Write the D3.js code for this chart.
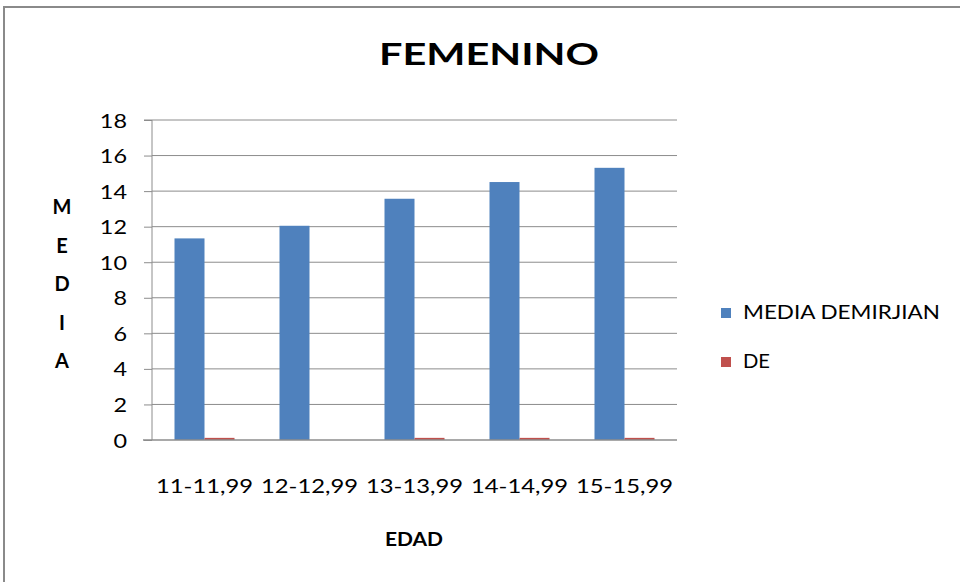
<!DOCTYPE html>
<html>
<head>
<meta charset="utf-8">
<script src="https://cdn.jsdelivr.net/npm/d3@7"></script>
<style>
  html, body { margin: 0; padding: 0; background: #fff; }
  svg { display: block; }
  text { font-family: Lato, "Open Sans", sans-serif; fill: #000; }
</style>
</head>
<body>
<script>
// Age groups on the x axis
const categories = ["11-11,99", "12-12,99", "13-13,99", "14-14,99", "15-15,99"];
// Series
const seriesNames = ["MEDIA DEMIRJIAN", "DE"];
const mediaDemirjian = [11.34, 12.05, 13.57, 14.51, 15.31];
const de = [0.12, 0, 0.12, 0.12, 0.12];
// Value axis ticks
const yTicks = [0, 2, 4, 6, 8, 10, 12, 14, 16, 18];
const colors = ["#4F81BD", "#C0504D"];

const W = 960, H = 582;
const svg = d3.select("body").append("svg").attr("width", W).attr("height", H);

// Outer chart frame
svg.append("path")
  .attr("d", "M4,585 L4,7 L965,7")
  .attr("fill", "none").attr("stroke", "#8a8a8a").attr("stroke-width", 2);

const plot = { left: 152, right: 677, top: 120, bottom: 440 };

const x = d3.scaleBand().domain(categories).range([plot.left, plot.right])
  .paddingInner(0.4286).paddingOuter(0.2143);
const y = d3.scaleLinear().domain([0, 18]).range([plot.bottom, plot.top]);

// Horizontal gridlines
svg.append("g").selectAll("line").data(yTicks.filter(d => d > 0)).join("line")
  .attr("x1", plot.left).attr("x2", plot.right)
  .attr("y1", d => y(d)).attr("y2", d => y(d))
  .attr("stroke", "#8c8c8c").attr("stroke-width", 1);

// Bars: two series side by side within each category slot
const rows = categories.map((c, i) => ({ c, vals: [mediaDemirjian[i], de[i]] }));
const groupW = x.step() * (1 - 0.4286);
const xs = d3.scaleBand().domain([0, 1]).range([0, groupW]);
const g = svg.append("g");
rows.forEach(r => {
  const x0 = x(r.c) - (groupW - x.bandwidth()) / 2;
  r.vals.forEach((v, j) => {
    if (v <= 0) return;
    g.append("rect")
      .attr("x", x0 + xs(j))
      .attr("width", xs.bandwidth())
      .attr("y", y(v))
      .attr("height", y(0) - y(v))
      .attr("fill", colors[j]);
  });
});

// Y axis
const yAxis = d3.axisLeft(y).tickValues(yTicks).tickSize(8).tickPadding(17);
const ya = svg.append("g").attr("transform", `translate(${plot.left},0)`).call(yAxis);
ya.select(".domain").attr("stroke", "#8c8c8c").attr("d", `M-8,${plot.top}H0V${plot.bottom}`);
ya.selectAll(".tick line").attr("stroke", "#8c8c8c");
ya.selectAll(".tick text")
  .attr("font-family", "Lato, 'Open Sans', sans-serif").attr("font-size", 19.5).attr("fill", "#000")
  .attr("dy", "0.36em")
  .each(function () {
    const t = this, w = t.getComputedTextLength();
    d3.select(t).attr("textLength", w * 1.2).attr("lengthAdjust", "spacingAndGlyphs");
  });

// X axis baseline
svg.append("line")
  .attr("x1", plot.left - 9).attr("x2", plot.right)
  .attr("y1", plot.bottom).attr("y2", plot.bottom)
  .attr("stroke", "#8c8c8c").attr("stroke-width", 1.5);

// Category labels
svg.append("g").selectAll("text").data(categories).join("text")
  .attr("x", d => x(d) + x.bandwidth() / 2)
  .attr("y", 493)
  .attr("text-anchor", "middle")
  .attr("font-size", 19.5)
  .attr("textLength", 97).attr("lengthAdjust", "spacingAndGlyphs")
  .text(d => d);

// Title
svg.append("text")
  .attr("x", 489).attr("y", 65)
  .attr("text-anchor", "middle")
  .attr("font-size", 31).attr("font-weight", "bold")
  .attr("textLength", 220).attr("lengthAdjust", "spacingAndGlyphs")
  .text("FEMENINO");

// X axis title
svg.append("text")
  .attr("x", 414).attr("y", 546)
  .attr("text-anchor", "middle")
  .attr("font-size", 19.5).attr("font-weight", "bold")
  .attr("textLength", 58).attr("lengthAdjust", "spacingAndGlyphs")
  .text("EDAD");

// Y axis title, stacked letters
const yTitle = "MEDIA".split("");
svg.append("g").selectAll("text").data(yTitle).join("text")
  .attr("x", 62)
  .attr("y", (d, i) => 214 + i * 38.5)
  .attr("text-anchor", "middle")
  .attr("font-size", 20).attr("font-weight", "bold")
  .text(d => d);

// Legend
const legend = svg.append("g").selectAll("g").data(seriesNames).join("g")
  .attr("transform", (d, i) => `translate(721,${308 + i * 49})`);
legend.append("rect").attr("width", 10).attr("height", 10)
  .attr("fill", (d, i) => colors[i]);
legend.append("text")
  .attr("x", 22).attr("y", 11)
  .attr("font-size", 19.5)
  .attr("fill", "#1a1a1a")
  .each(function (d) {
    const t = d3.select(this).text(d);
    t.attr("textLength", d === "MEDIA DEMIRJIAN" ? 197 : 27).attr("lengthAdjust", "spacingAndGlyphs");
  });
</script>
</body>
</html>
